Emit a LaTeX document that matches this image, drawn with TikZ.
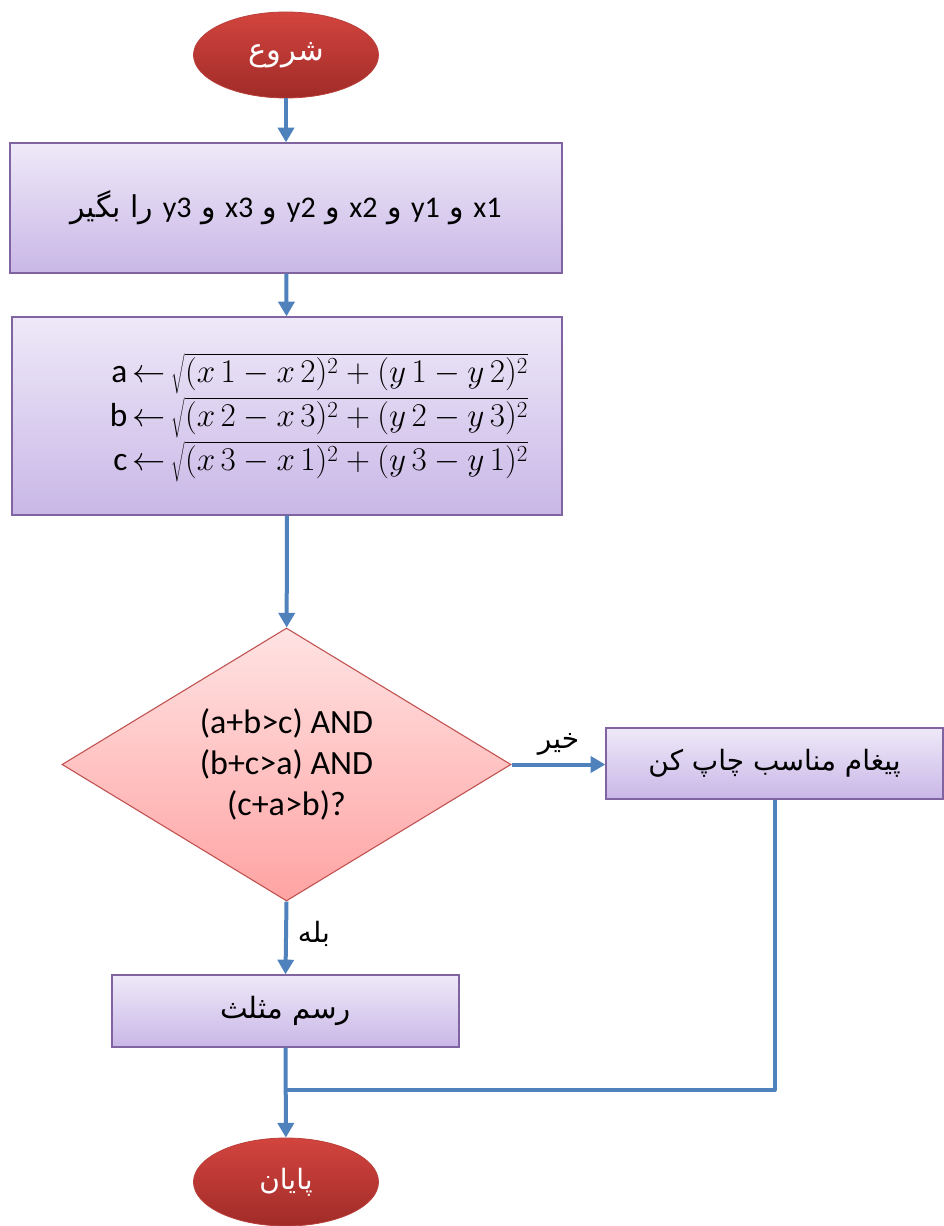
\documentclass[tikz,border=0pt]{standalone}
\usepackage{fontspec}
\setmainfont{Carlito}
\newfontfamily\fa[Script=Arabic]{DejaVu Sans}
\TeXXeTstate=1
\usetikzlibrary{shapes.geometric,arrows.meta}
\definecolor{arrowblue}{HTML}{4F81BD}
\definecolor{boxtop}{HTML}{EEE9F8}
\definecolor{boxbot}{HTML}{C9B7E7}
\definecolor{boxborder}{HTML}{8064A2}
\definecolor{termtop}{HTML}{D3443E}
\definecolor{termbot}{HTML}{A02B28}
\definecolor{termborder}{HTML}{B9403B}
\definecolor{dectop}{HTML}{FFE3E3}
\definecolor{decbot}{HTML}{FFA3A3}
\definecolor{decborder}{HTML}{C0504D}
\newcommand{\lat}[1]{\beginL{\normalfont #1}\endL{}}
\begin{document}
\begin{tikzpicture}[x=0.75pt,y=-0.75pt,
  procbox/.style={rectangle, draw=boxborder, line width=1pt, top color=boxtop, bottom color=boxbot, inner sep=0pt},
  term/.style={ellipse, draw=termborder, line width=0.6pt, top color=termtop, bottom color=termbot, text=white, inner sep=0pt, minimum width={185*0.75pt}},
  decbox/.style={diamond, aspect=1.645, draw=decborder, line width=0.8pt, top color=dectop, bottom color=decbot, inner sep=0pt, align=center},
  flow/.style={draw=arrowblue, line width=3pt, -{Triangle[length=11pt,width=12pt]}},
  flowline/.style={draw=arrowblue, line width=3pt, line join=round},
  lbl/.style={font=\fontsize{21}{25}\selectfont}]
\useasboundingbox (0,0) rectangle (944,1226);

\node[term, minimum height={86*0.75pt}, font=\fontsize{23}{27}\selectfont] (start) at (286,55) {\fa\beginR شروع\endR};

\node[procbox, minimum width={552*0.75pt}, minimum height={130*0.75pt}, font=\fontsize{22.5}{27}\selectfont] (input) at (286,208)
  {\fa\beginR\lat{x1} و \lat{y1} و \lat{x2} و \lat{y2} و \lat{x3} و \lat{y3} را بگیر\endR};

\node[procbox, minimum width={550*0.75pt}, minimum height={198*0.75pt}] (calc) at (287,416) {};
\node[font=\fontsize{25}{30}\selectfont, inner sep=0pt] (formulas) at (319,418)
  {\begin{tabular}{@{}r@{\,}l@{}}
   a\,$\leftarrow$ & $\sqrt{(x\,1-x\,2)^2+(y\,1-y\,2)^2}$\\[2pt]
   b\,$\leftarrow$ & $\sqrt{(x\,2-x\,3)^2+(y\,2-y\,3)^2}$\\[2pt]
   c\,$\leftarrow$ & $\sqrt{(x\,3-x\,1)^2+(y\,3-y\,1)^2}$
   \end{tabular}};

\node[decbox, minimum width={449*0.75pt}, minimum height={273*0.75pt}, font=\fontsize{25.5}{30.5}\selectfont] (dec) at (286.5,764.5)
  {(a+b>c) AND\\(b+c>a) AND\\(c+a>b)?};

\node[procbox, minimum width={337*0.75pt}, minimum height={71*0.75pt}, font=\fontsize{21}{25}\selectfont] (msg) at (774.5,763.5)
  {\fa\beginR پیغام مناسب چاپ کن\endR};

\node[procbox, minimum width={347*0.75pt}, minimum height={72*0.75pt}, font=\fontsize{22}{26}\selectfont] (tri) at (285.5,1011)
  {\fa\beginR رسم مثلث\endR};

\node[term, minimum height={88*0.75pt}, font=\fontsize{21}{25}\selectfont] (stop) at (286,1182) {\fa\beginR پایان\endR};

\coordinate (join) at (286,1090);

\draw[flow] (start) -- (input);
\draw[flow] (input) -- (calc);
\draw[flow] (calc) -- (dec);
\draw[flow] (dec.east) -- node[lbl, above=2pt] {\fa\beginR خیر\endR} (dec.east -| msg.west);
\draw[flow] (dec.south) -- node[lbl, right=4pt, pos=0.45] {\fa\beginR بله\endR} (tri.north);
\draw[flow] (tri) -- (stop);
\draw[flowline] (msg.south) |- (join);
\end{tikzpicture}
\end{document}
